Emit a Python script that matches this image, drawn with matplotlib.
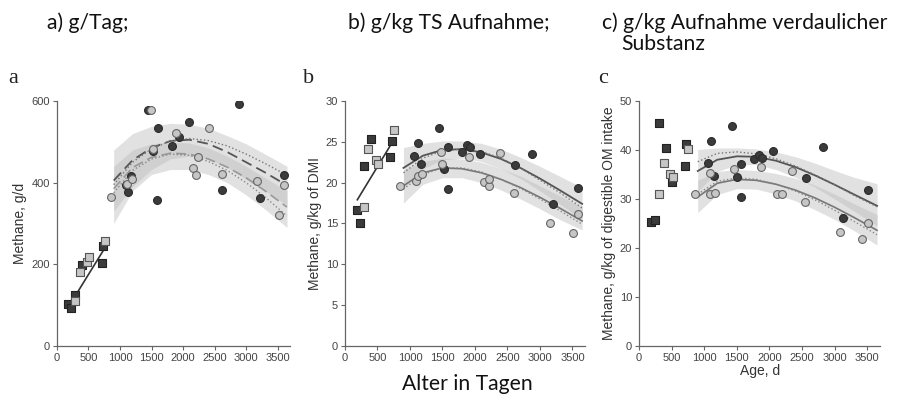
import matplotlib
matplotlib.use("Agg")
from matplotlib import pyplot as plt

curve_x = [900, 1200, 1500, 1800, 2100, 2400, 2700, 3000, 3300, 3650]

# ---- panel a: g/d ----
a_dsq_x = [176, 229, 293, 399, 708, 734]
a_dsq_y = [102, 92, 124, 197, 202, 244]
a_lsq_x = [293, 362, 479, 505, 761]
a_lsq_y = [111, 181, 205, 218, 256]
a_dci_x = [1442, 1601, 1527, 1590, 1176, 1128, 1091, 1819, 1942, 2101, 2623, 2889, 3219, 3596]
a_dci_y = [578, 533, 477, 358, 416, 376, 393, 489, 512, 549, 383, 593, 363, 418]
a_lci_x = [857, 1495, 1107, 1186, 1516, 1888, 2155, 2208, 2245, 2410, 2612, 3166, 3516, 3607]
a_lci_y = [365, 578, 397, 408, 483, 522, 436, 418, 463, 534, 422, 404, 321, 393]
a_lin_x = [200, 780]
a_lin_y = [100, 245]
a_up = [405, 455, 485, 502, 505, 495, 475, 450, 425, 393]
a_up_dot = [395, 450, 483, 502, 508, 503, 490, 470, 447, 418]
a_lo = [385, 437, 462, 472, 470, 458, 438, 412, 380, 340]
a_lo_dot = [375, 430, 458, 470, 467, 452, 430, 400, 365, 318]
a_bu_hi = [480, 520, 538, 545, 543, 533, 515, 495, 470, 440]
a_bu_lo = [330, 390, 432, 458, 465, 458, 438, 408, 380, 345]
a_bl_hi = [440, 480, 495, 500, 497, 485, 465, 440, 412, 380]
a_bl_lo = [300, 380, 420, 432, 432, 420, 400, 370, 335, 290]

# ---- panel b: g/kg DMI ----
b_dsq_x = [190, 232, 293, 401, 695, 731]
b_dsq_y = [16.6, 15.1, 22.0, 25.3, 23.1, 25.1]
b_lsq_x = [293, 360, 484, 515, 757]
b_lsq_y = [17.0, 24.1, 22.8, 22.3, 26.4]
b_dci_x = [1065, 1122, 1173, 1441, 1523, 1585, 1585, 1801, 1874, 1925, 2085, 2620, 2882, 3201, 3587]
b_dci_y = [23.2, 24.8, 22.3, 26.7, 21.7, 19.2, 24.3, 23.8, 24.6, 24.4, 23.5, 22.1, 23.5, 17.4, 19.4]
b_lci_x = [854, 1096, 1117, 1184, 1482, 1490, 1904, 2146, 2213, 2223, 2393, 2609, 3160, 3510, 3593]
b_lci_y = [19.6, 20.2, 20.8, 21.1, 23.8, 22.3, 23.1, 20.1, 19.6, 20.5, 23.6, 18.7, 15.1, 13.8, 16.2]
b_lin_x = [190, 741]
b_lin_y = [17.9, 25.1]
b_up = [21.8, 23.3, 24.0, 24.1, 23.7, 22.9, 21.8, 20.5, 19.1, 17.4]
b_up_dot = [21.2, 23.0, 23.9, 24.1, 23.8, 23.0, 21.8, 20.3, 18.8, 16.9]
b_lo = [19.6, 21.2, 21.8, 21.7, 21.2, 20.4, 19.4, 18.2, 16.9, 15.3]
b_lo_dot = [19.2, 21.0, 21.8, 21.8, 21.3, 20.4, 19.3, 18.0, 16.6, 14.9]
b_bu_hi = [24.3, 24.8, 25.1, 25.1, 24.8, 24.1, 23.1, 22.0, 20.8, 19.4]
b_bu_lo = [19.3, 21.7, 22.8, 23.0, 22.6, 21.7, 20.5, 19.0, 17.4, 15.5]
b_bl_hi = [21.5, 22.6, 23.0, 22.9, 22.5, 21.7, 20.8, 19.6, 18.4, 17.0]
b_bl_lo = [17.5, 19.8, 20.6, 20.6, 20.0, 19.1, 18.0, 16.8, 15.5, 14.2]

# ---- panel c: g/kg digestible OM intake ----
c_dsq_x = [191, 251, 301, 412, 512, 698, 728]
c_dsq_y = [25.2, 25.8, 45.4, 40.3, 33.5, 36.7, 41.3]
c_lsq_x = [301, 377, 477, 527, 753]
c_lsq_y = [31.0, 37.4, 35.1, 34.4, 40.1]
c_dci_x = [1055, 1110, 1155, 1426, 1502, 1567, 1557, 1768, 1843, 1893, 2059, 2561, 2822, 3134, 3515]
c_dci_y = [37.4, 41.9, 34.6, 44.9, 34.4, 37.1, 30.4, 38.2, 38.9, 38.4, 39.8, 34.2, 40.6, 26.2, 31.8]
c_lci_x = [854, 1090, 1090, 1170, 1456, 1868, 2119, 2185, 2350, 2546, 3083, 3425, 3515]
c_lci_y = [31.0, 35.2, 31.1, 31.3, 36.1, 36.5, 31.0, 31.0, 35.7, 29.4, 23.2, 21.9, 25.1]
c_up = [35.7, 38.0, 38.7, 38.6, 37.8, 36.5, 34.8, 32.9, 30.9, 28.6]
c_up_dot = [37.6, 39.3, 39.6, 39.2, 38.2, 36.7, 34.9, 32.9, 30.7, 28.4]
c_lo = [30.4, 33.2, 34.0, 33.8, 33.0, 31.8, 30.2, 28.3, 26.2, 23.6]
c_lo_dot = [31.0, 33.6, 34.3, 34.0, 33.0, 31.6, 29.8, 27.7, 25.4, 22.7]
c_bu_hi = [40.1, 40.4, 40.4, 40.2, 39.6, 38.6, 37.3, 35.8, 34.4, 33.1]
c_bu_lo = [31.5, 35.6, 37.0, 37.0, 36.0, 34.4, 32.4, 30.0, 27.5, 24.5]
c_bl_hi = [33.8, 35.6, 36.0, 35.8, 35.2, 34.2, 32.8, 31.0, 29.0, 26.8]
c_bl_lo = [27.2, 30.9, 32.1, 32.0, 31.0, 29.6, 27.8, 25.8, 23.5, 20.6]

x_ticks = [0, 500, 1000, 1500, 2000, 2500, 3000, 3500]

tick_font = ["Liberation Sans Narrow", "Liberation Sans"]
DARK = "#3b3b3b"
LIGHT = "#c6c6c6"


def style_axis(ax, ymax, ystep, ylabel):
    ax.set_xlim(0, 3700)
    ax.set_ylim(0, ymax)
    ax.set_xticks(x_ticks)
    ax.set_yticks(range(0, ymax + 1, ystep))
    for s in ["top", "right"]:
        ax.spines[s].set_visible(False)
    for s in ["left", "bottom"]:
        ax.spines[s].set_color("#666666")
        ax.spines[s].set_linewidth(0.9)
    ax.spines["left"].set_bounds(0, ymax)
    ax.tick_params(direction="out", length=3, width=0.8, color="#666666",
                   labelsize=8, labelcolor="#444444", pad=2)
    for lab in ax.get_xticklabels() + ax.get_yticklabels():
        lab.set_family(tick_font)
    ax.set_ylabel(ylabel, fontsize=10, color="#333333", family=tick_font, labelpad=3)
    ax.patch.set_alpha(0)


def draw_points(ax, dsq, lsq, dci, lci):
    kw = dict(s=32, zorder=5, linewidths=0.8)
    ax.scatter(*dsq, marker="s", facecolor=DARK, edgecolor="#222222", **kw)
    ax.scatter(*lsq, marker="s", facecolor=LIGHT, edgecolor="#555555", **kw)
    ax.scatter(*dci, marker="o", facecolor=DARK, edgecolor="#2a2a2a", **kw)
    ax.scatter(*lci, marker="o", facecolor=LIGHT, edgecolor="#666666", **kw)


def draw_bands(ax, bu_hi, bu_lo, bl_hi, bl_lo):
    ax.fill_between(curve_x, bu_lo, bu_hi, color="#bdbdbd", alpha=0.45, lw=0, zorder=1)
    ax.fill_between(curve_x, bl_lo, bl_hi, color="#bdbdbd", alpha=0.45, lw=0, zorder=1)


fig = plt.figure(figsize=(8.97, 3.99), dpi=100)
ax_a = fig.add_axes([0.0635, 0.133, 0.260, 0.614])
ax_b = fig.add_axes([0.3846, 0.133, 0.268, 0.614])
ax_c = fig.add_axes([0.7124, 0.133, 0.269, 0.614])

# panel a
draw_bands(ax_a, a_bu_hi, a_bu_lo, a_bl_hi, a_bl_lo)
ax_a.plot(curve_x, a_up, color="#555555", lw=1.3, ls=(0, (6, 3)), zorder=3)
ax_a.plot(curve_x, a_up_dot, color="#777777", lw=1.0, ls=":", zorder=3)
ax_a.plot(curve_x, a_lo, color="#999999", lw=1.2, ls=(0, (6, 3)), zorder=3)
ax_a.plot(curve_x, a_lo_dot, color="#888888", lw=1.0, ls=":", zorder=3)
ax_a.plot(a_lin_x, a_lin_y, color="#333333", lw=1.2, zorder=4)
draw_points(ax_a, (a_dsq_x, a_dsq_y), (a_lsq_x, a_lsq_y), (a_dci_x, a_dci_y), (a_lci_x, a_lci_y))
style_axis(ax_a, 600, 200, "Methane, g/d")

# panel b
draw_bands(ax_b, b_bu_hi, b_bu_lo, b_bl_hi, b_bl_lo)
ax_b.plot(curve_x, b_up, color="#555555", lw=1.3, zorder=3)
ax_b.plot(curve_x, b_up_dot, color="#777777", lw=1.0, ls=":", zorder=3)
ax_b.plot(curve_x, b_lo, color="#777777", lw=1.2, zorder=3)
ax_b.plot(curve_x, b_lo_dot, color="#888888", lw=1.0, ls=":", zorder=3)
ax_b.plot(b_lin_x, b_lin_y, color="#333333", lw=1.2, zorder=4)
draw_points(ax_b, (b_dsq_x, b_dsq_y), (b_lsq_x, b_lsq_y), (b_dci_x, b_dci_y), (b_lci_x, b_lci_y))
style_axis(ax_b, 30, 5, "Methane, g/kg of DMI")

# panel c
draw_bands(ax_c, c_bu_hi, c_bu_lo, c_bl_hi, c_bl_lo)
ax_c.plot(curve_x, c_up, color="#555555", lw=1.3, zorder=3)
ax_c.plot(curve_x, c_up_dot, color="#777777", lw=1.0, ls=":", zorder=3)
ax_c.plot(curve_x, c_lo, color="#777777", lw=1.2, zorder=3)
ax_c.plot(curve_x, c_lo_dot, color="#888888", lw=1.0, ls=":", zorder=3)
draw_points(ax_c, (c_dsq_x, c_dsq_y), (c_lsq_x, c_lsq_y), (c_dci_x, c_dci_y), (c_lci_x, c_lci_y))
style_axis(ax_c, 50, 10, "Methane, g/kg of digestible OM intake")
ax_c.set_xlabel("Age, d", fontsize=10, color="#333333", family=tick_font, labelpad=1)

# panel letters
for x, s in [(0.009, "a"), (0.338, "b"), (0.667, "c")]:
    fig.text(x, 0.792, s, fontsize=16, family="Liberation Serif", color="#222222",
             va="baseline")

# German captions
cap = dict(fontsize=15.2, family="Lato", color="#111111", va="baseline")
fig.text(0.052, 0.927, "a) g/Tag;", **cap)
fig.text(0.388, 0.927, "b) g/kg TS Aufnahme;", **cap)
fig.text(0.671, 0.927, "c) g/kg Aufnahme verdaulicher", **cap)
fig.text(0.693, 0.875, "Substanz", **cap)
fig.text(0.448, 0.0226, "Alter in Tagen", **cap)

fig.savefig("out.png", dpi=100)
